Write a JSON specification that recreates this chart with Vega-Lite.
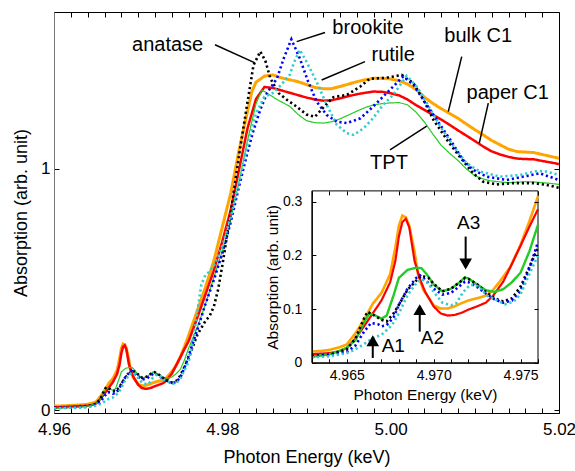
{
  "$schema": "https://vega.github.io/schema/vega-lite/v6.json",
  "width": 505,
  "height": 401,
  "autosize": {"type": "none"},
  "padding": {"left": 54, "top": 12, "right": 16, "bottom": 58},
  "config": {
    "view": {"stroke": "black", "strokeWidth": 1},
    "font": "Liberation Sans",
    "axis": {"grid": false, "labelFont": "Liberation Sans", "titleFont": "Liberation Sans", "labelColor": "black", "titleColor": "black", "titleFontWeight": "normal", "tickColor": "black", "domainColor": "black", "labelOverlap": false, "labelFlush": false}
  },
  "datasets": {
    "curves": [
      {"s":"bulk C1","x":4.960,"y":0.016},{"s":"bulk C1","x":4.9615,"y":0.018},{"s":"bulk C1","x":4.963,"y":0.021},{"s":"bulk C1","x":4.9635,"y":0.022},{"s":"bulk C1","x":4.964,"y":0.024},{"s":"bulk C1","x":4.9645,"y":0.028},{"s":"bulk C1","x":4.965,"y":0.034},{"s":"bulk C1","x":4.9655,"y":0.055},{"s":"bulk C1","x":4.966,"y":0.080},{"s":"bulk C1","x":4.9665,"y":0.110},{"s":"bulk C1","x":4.967,"y":0.130},{"s":"bulk C1","x":4.9675,"y":0.165},{"s":"bulk C1","x":4.9678,"y":0.215},{"s":"bulk C1","x":4.968,"y":0.255},{"s":"bulk C1","x":4.9682,"y":0.274},{"s":"bulk C1","x":4.9684,"y":0.271},{"s":"bulk C1","x":4.9686,"y":0.255},{"s":"bulk C1","x":4.9689,"y":0.207},{"s":"bulk C1","x":4.9691,"y":0.165},{"s":"bulk C1","x":4.9694,"y":0.136},{"s":"bulk C1","x":4.970,"y":0.107},{"s":"bulk C1","x":4.9704,"y":0.101},{"s":"bulk C1","x":4.9708,"y":0.101},{"s":"bulk C1","x":4.9712,"y":0.105},{"s":"bulk C1","x":4.9716,"y":0.111},{"s":"bulk C1","x":4.972,"y":0.116},{"s":"bulk C1","x":4.9725,"y":0.120},{"s":"bulk C1","x":4.973,"y":0.125},{"s":"bulk C1","x":4.9734,"y":0.135},{"s":"bulk C1","x":4.9738,"y":0.151},{"s":"bulk C1","x":4.9744,"y":0.178},{"s":"bulk C1","x":4.975,"y":0.220},{"s":"bulk C1","x":4.9755,"y":0.263},{"s":"bulk C1","x":4.976,"y":0.310},{"s":"bulk C1","x":4.977,"y":0.41},{"s":"bulk C1","x":4.978,"y":0.51},{"s":"bulk C1","x":4.979,"y":0.62},{"s":"bulk C1","x":4.980,"y":0.76},{"s":"bulk C1","x":4.981,"y":0.90},{"s":"bulk C1","x":4.982,"y":1.08},{"s":"bulk C1","x":4.983,"y":1.24},{"s":"bulk C1","x":4.9835,"y":1.32},{"s":"bulk C1","x":4.984,"y":1.36},{"s":"bulk C1","x":4.985,"y":1.385},{"s":"bulk C1","x":4.986,"y":1.39},{"s":"bulk C1","x":4.987,"y":1.378},{"s":"bulk C1","x":4.988,"y":1.37},{"s":"bulk C1","x":4.989,"y":1.362},{"s":"bulk C1","x":4.990,"y":1.350},{"s":"bulk C1","x":4.991,"y":1.338},{"s":"bulk C1","x":4.992,"y":1.333},{"s":"bulk C1","x":4.993,"y":1.333},{"s":"bulk C1","x":4.994,"y":1.342},{"s":"bulk C1","x":4.995,"y":1.352},{"s":"bulk C1","x":4.996,"y":1.362},{"s":"bulk C1","x":4.997,"y":1.370},{"s":"bulk C1","x":4.998,"y":1.376},{"s":"bulk C1","x":4.999,"y":1.376},{"s":"bulk C1","x":5.000,"y":1.373},{"s":"bulk C1","x":5.001,"y":1.366},{"s":"bulk C1","x":5.002,"y":1.352},{"s":"bulk C1","x":5.003,"y":1.330},{"s":"bulk C1","x":5.004,"y":1.298},{"s":"bulk C1","x":5.005,"y":1.272},{"s":"bulk C1","x":5.006,"y":1.250},{"s":"bulk C1","x":5.007,"y":1.230},{"s":"bulk C1","x":5.008,"y":1.210},{"s":"bulk C1","x":5.009,"y":1.186},{"s":"bulk C1","x":5.010,"y":1.163},{"s":"bulk C1","x":5.011,"y":1.141},{"s":"bulk C1","x":5.012,"y":1.118},{"s":"bulk C1","x":5.013,"y":1.100},{"s":"bulk C1","x":5.014,"y":1.082},{"s":"bulk C1","x":5.015,"y":1.072},{"s":"bulk C1","x":5.016,"y":1.070},{"s":"bulk C1","x":5.017,"y":1.068},{"s":"bulk C1","x":5.018,"y":1.060},{"s":"bulk C1","x":5.019,"y":1.052},{"s":"bulk C1","x":5.020,"y":1.044},

      {"s":"paper C1","x":4.960,"y":0.011},{"s":"paper C1","x":4.9615,"y":0.013},{"s":"paper C1","x":4.963,"y":0.016},{"s":"paper C1","x":4.964,"y":0.018},{"s":"paper C1","x":4.9645,"y":0.021},{"s":"paper C1","x":4.965,"y":0.027},{"s":"paper C1","x":4.9655,"y":0.045},{"s":"paper C1","x":4.966,"y":0.068},{"s":"paper C1","x":4.9665,"y":0.092},{"s":"paper C1","x":4.967,"y":0.116},{"s":"paper C1","x":4.9675,"y":0.150},{"s":"paper C1","x":4.9678,"y":0.190},{"s":"paper C1","x":4.968,"y":0.235},{"s":"paper C1","x":4.9682,"y":0.262},{"s":"paper C1","x":4.9684,"y":0.268},{"s":"paper C1","x":4.9686,"y":0.252},{"s":"paper C1","x":4.9689,"y":0.190},{"s":"paper C1","x":4.9692,"y":0.157},{"s":"paper C1","x":4.9695,"y":0.133},{"s":"paper C1","x":4.970,"y":0.105},{"s":"paper C1","x":4.9704,"y":0.092},{"s":"paper C1","x":4.9708,"y":0.088},{"s":"paper C1","x":4.9712,"y":0.089},{"s":"paper C1","x":4.9716,"y":0.093},{"s":"paper C1","x":4.972,"y":0.099},{"s":"paper C1","x":4.9725,"y":0.105},{"s":"paper C1","x":4.973,"y":0.112},{"s":"paper C1","x":4.9734,"y":0.124},{"s":"paper C1","x":4.974,"y":0.151},{"s":"paper C1","x":4.9745,"y":0.184},{"s":"paper C1","x":4.975,"y":0.218},{"s":"paper C1","x":4.9755,"y":0.253},{"s":"paper C1","x":4.976,"y":0.286},{"s":"paper C1","x":4.977,"y":0.38},{"s":"paper C1","x":4.978,"y":0.48},{"s":"paper C1","x":4.979,"y":0.58},{"s":"paper C1","x":4.980,"y":0.70},{"s":"paper C1","x":4.981,"y":0.83},{"s":"paper C1","x":4.982,"y":1.00},{"s":"paper C1","x":4.983,"y":1.17},{"s":"paper C1","x":4.984,"y":1.29},{"s":"paper C1","x":4.985,"y":1.34},{"s":"paper C1","x":4.986,"y":1.336},{"s":"paper C1","x":4.987,"y":1.326},{"s":"paper C1","x":4.988,"y":1.316},{"s":"paper C1","x":4.989,"y":1.306},{"s":"paper C1","x":4.990,"y":1.296},{"s":"paper C1","x":4.991,"y":1.288},{"s":"paper C1","x":4.992,"y":1.283},{"s":"paper C1","x":4.993,"y":1.285},{"s":"paper C1","x":4.994,"y":1.293},{"s":"paper C1","x":4.995,"y":1.302},{"s":"paper C1","x":4.996,"y":1.310},{"s":"paper C1","x":4.997,"y":1.316},{"s":"paper C1","x":4.998,"y":1.321},{"s":"paper C1","x":4.999,"y":1.320},{"s":"paper C1","x":5.000,"y":1.314},{"s":"paper C1","x":5.001,"y":1.305},{"s":"paper C1","x":5.002,"y":1.288},{"s":"paper C1","x":5.003,"y":1.265},{"s":"paper C1","x":5.004,"y":1.245},{"s":"paper C1","x":5.005,"y":1.225},{"s":"paper C1","x":5.006,"y":1.205},{"s":"paper C1","x":5.007,"y":1.183},{"s":"paper C1","x":5.008,"y":1.160},{"s":"paper C1","x":5.009,"y":1.138},{"s":"paper C1","x":5.010,"y":1.116},{"s":"paper C1","x":5.011,"y":1.093},{"s":"paper C1","x":5.012,"y":1.073},{"s":"paper C1","x":5.013,"y":1.060},{"s":"paper C1","x":5.014,"y":1.050},{"s":"paper C1","x":5.015,"y":1.043},{"s":"paper C1","x":5.016,"y":1.041},{"s":"paper C1","x":5.017,"y":1.040},{"s":"paper C1","x":5.018,"y":1.033},{"s":"paper C1","x":5.019,"y":1.027},{"s":"paper C1","x":5.020,"y":1.020},

      {"s":"TPT","x":4.960,"y":0.007},{"s":"TPT","x":4.9615,"y":0.009},{"s":"TPT","x":4.963,"y":0.011},{"s":"TPT","x":4.964,"y":0.016},{"s":"TPT","x":4.9645,"y":0.021},{"s":"TPT","x":4.965,"y":0.028},{"s":"TPT","x":4.9655,"y":0.042},{"s":"TPT","x":4.966,"y":0.075},{"s":"TPT","x":4.9663,"y":0.092},{"s":"TPT","x":4.9666,"y":0.089},{"s":"TPT","x":4.967,"y":0.082},{"s":"TPT","x":4.9673,"y":0.088},{"s":"TPT","x":4.9677,"y":0.126},{"s":"TPT","x":4.968,"y":0.158},{"s":"TPT","x":4.9685,"y":0.173},{"s":"TPT","x":4.969,"y":0.177},{"s":"TPT","x":4.9693,"y":0.176},{"s":"TPT","x":4.9696,"y":0.165},{"s":"TPT","x":4.970,"y":0.146},{"s":"TPT","x":4.9705,"y":0.133},{"s":"TPT","x":4.971,"y":0.138},{"s":"TPT","x":4.9715,"y":0.150},{"s":"TPT","x":4.9718,"y":0.159},{"s":"TPT","x":4.972,"y":0.157},{"s":"TPT","x":4.9725,"y":0.146},{"s":"TPT","x":4.973,"y":0.135},{"s":"TPT","x":4.9735,"y":0.132},{"s":"TPT","x":4.974,"y":0.137},{"s":"TPT","x":4.9745,"y":0.150},{"s":"TPT","x":4.975,"y":0.168},{"s":"TPT","x":4.9755,"y":0.207},{"s":"TPT","x":4.976,"y":0.257},{"s":"TPT","x":4.977,"y":0.34},{"s":"TPT","x":4.978,"y":0.44},{"s":"TPT","x":4.979,"y":0.55},{"s":"TPT","x":4.980,"y":0.66},{"s":"TPT","x":4.981,"y":0.79},{"s":"TPT","x":4.982,"y":0.95},{"s":"TPT","x":4.983,"y":1.12},{"s":"TPT","x":4.984,"y":1.27},{"s":"TPT","x":4.9847,"y":1.328},{"s":"TPT","x":4.9855,"y":1.310},{"s":"TPT","x":4.9865,"y":1.288},{"s":"TPT","x":4.988,"y":1.260},{"s":"TPT","x":4.989,"y":1.226},{"s":"TPT","x":4.990,"y":1.200},{"s":"TPT","x":4.991,"y":1.192},{"s":"TPT","x":4.992,"y":1.190},{"s":"TPT","x":4.993,"y":1.196},{"s":"TPT","x":4.994,"y":1.208},{"s":"TPT","x":4.995,"y":1.224},{"s":"TPT","x":4.996,"y":1.240},{"s":"TPT","x":4.997,"y":1.255},{"s":"TPT","x":4.998,"y":1.266},{"s":"TPT","x":4.999,"y":1.271},{"s":"TPT","x":5.000,"y":1.274},{"s":"TPT","x":5.001,"y":1.275},{"s":"TPT","x":5.002,"y":1.266},{"s":"TPT","x":5.003,"y":1.236},{"s":"TPT","x":5.004,"y":1.195},{"s":"TPT","x":5.005,"y":1.145},{"s":"TPT","x":5.006,"y":1.098},{"s":"TPT","x":5.007,"y":1.065},{"s":"TPT","x":5.008,"y":1.035},{"s":"TPT","x":5.009,"y":1.000},{"s":"TPT","x":5.010,"y":0.972},{"s":"TPT","x":5.011,"y":0.958},{"s":"TPT","x":5.012,"y":0.950},{"s":"TPT","x":5.013,"y":0.946},{"s":"TPT","x":5.014,"y":0.943},{"s":"TPT","x":5.015,"y":0.945},{"s":"TPT","x":5.016,"y":0.947},{"s":"TPT","x":5.017,"y":0.946},{"s":"TPT","x":5.018,"y":0.943},{"s":"TPT","x":5.019,"y":0.940},{"s":"TPT","x":5.020,"y":0.936},

      {"s":"anatase","x":4.960,"y":0.009},{"s":"anatase","x":4.9615,"y":0.011},{"s":"anatase","x":4.963,"y":0.013},{"s":"anatase","x":4.964,"y":0.015},{"s":"anatase","x":4.965,"y":0.025},{"s":"anatase","x":4.9655,"y":0.045},{"s":"anatase","x":4.966,"y":0.083},{"s":"anatase","x":4.9662,"y":0.095},{"s":"anatase","x":4.9666,"y":0.088},{"s":"anatase","x":4.967,"y":0.080},{"s":"anatase","x":4.9673,"y":0.077},{"s":"anatase","x":4.9677,"y":0.092},{"s":"anatase","x":4.968,"y":0.108},{"s":"anatase","x":4.9685,"y":0.136},{"s":"anatase","x":4.969,"y":0.153},{"s":"anatase","x":4.9693,"y":0.162},{"s":"anatase","x":4.9697,"y":0.158},{"s":"anatase","x":4.970,"y":0.147},{"s":"anatase","x":4.9705,"y":0.133},{"s":"anatase","x":4.971,"y":0.138},{"s":"anatase","x":4.9715,"y":0.150},{"s":"anatase","x":4.9718,"y":0.158},{"s":"anatase","x":4.972,"y":0.156},{"s":"anatase","x":4.9725,"y":0.146},{"s":"anatase","x":4.973,"y":0.132},{"s":"anatase","x":4.9735,"y":0.120},{"s":"anatase","x":4.974,"y":0.114},{"s":"anatase","x":4.9745,"y":0.120},{"s":"anatase","x":4.975,"y":0.142},{"s":"anatase","x":4.9755,"y":0.178},{"s":"anatase","x":4.976,"y":0.215},{"s":"anatase","x":4.977,"y":0.31},{"s":"anatase","x":4.978,"y":0.37},{"s":"anatase","x":4.9785,"y":0.39},{"s":"anatase","x":4.979,"y":0.43},{"s":"anatase","x":4.9795,"y":0.50},{"s":"anatase","x":4.980,"y":0.60},{"s":"anatase","x":4.981,"y":0.82},{"s":"anatase","x":4.982,"y":1.06},{"s":"anatase","x":4.983,"y":1.28},{"s":"anatase","x":4.9837,"y":1.43},{"s":"anatase","x":4.9845,"y":1.487},{"s":"anatase","x":4.9851,"y":1.45},{"s":"anatase","x":4.9857,"y":1.376},{"s":"anatase","x":4.9867,"y":1.314},{"s":"anatase","x":4.9877,"y":1.286},{"s":"anatase","x":4.9888,"y":1.259},{"s":"anatase","x":4.990,"y":1.226},{"s":"anatase","x":4.991,"y":1.216},{"s":"anatase","x":4.992,"y":1.255},{"s":"anatase","x":4.9932,"y":1.298},{"s":"anatase","x":4.9948,"y":1.307},{"s":"anatase","x":4.9964,"y":1.342},{"s":"anatase","x":4.9975,"y":1.374},{"s":"anatase","x":4.9995,"y":1.378},{"s":"anatase","x":5.0013,"y":1.390},{"s":"anatase","x":5.0027,"y":1.356},{"s":"anatase","x":5.0039,"y":1.286},{"s":"anatase","x":5.0051,"y":1.203},{"s":"anatase","x":5.0067,"y":1.120},{"s":"anatase","x":5.0082,"y":1.051},{"s":"anatase","x":5.0098,"y":0.982},{"s":"anatase","x":5.011,"y":0.947},{"s":"anatase","x":5.0126,"y":0.936},{"s":"anatase","x":5.0146,"y":0.941},{"s":"anatase","x":5.017,"y":0.941},{"s":"anatase","x":5.0185,"y":0.934},{"s":"anatase","x":5.020,"y":0.922},

      {"s":"brookite","x":4.960,"y":0.008},{"s":"brookite","x":4.9615,"y":0.010},{"s":"brookite","x":4.963,"y":0.012},{"s":"brookite","x":4.964,"y":0.014},{"s":"brookite","x":4.965,"y":0.020},{"s":"brookite","x":4.9655,"y":0.032},{"s":"brookite","x":4.966,"y":0.058},{"s":"brookite","x":4.9664,"y":0.074},{"s":"brookite","x":4.9668,"y":0.072},{"s":"brookite","x":4.967,"y":0.068},{"s":"brookite","x":4.9673,"y":0.070},{"s":"brookite","x":4.9677,"y":0.085},{"s":"brookite","x":4.968,"y":0.108},{"s":"brookite","x":4.9685,"y":0.138},{"s":"brookite","x":4.969,"y":0.158},{"s":"brookite","x":4.9692,"y":0.163},{"s":"brookite","x":4.9696,"y":0.152},{"s":"brookite","x":4.970,"y":0.138},{"s":"brookite","x":4.9705,"y":0.127},{"s":"brookite","x":4.971,"y":0.130},{"s":"brookite","x":4.9715,"y":0.143},{"s":"brookite","x":4.9718,"y":0.151},{"s":"brookite","x":4.972,"y":0.150},{"s":"brookite","x":4.9725,"y":0.141},{"s":"brookite","x":4.973,"y":0.129},{"s":"brookite","x":4.9735,"y":0.118},{"s":"brookite","x":4.974,"y":0.112},{"s":"brookite","x":4.9745,"y":0.116},{"s":"brookite","x":4.975,"y":0.134},{"s":"brookite","x":4.9755,"y":0.175},{"s":"brookite","x":4.976,"y":0.225},{"s":"brookite","x":4.977,"y":0.33},{"s":"brookite","x":4.978,"y":0.44},{"s":"brookite","x":4.979,"y":0.54},{"s":"brookite","x":4.980,"y":0.65},{"s":"brookite","x":4.981,"y":0.78},{"s":"brookite","x":4.982,"y":0.93},{"s":"brookite","x":4.983,"y":1.07},{"s":"brookite","x":4.9837,"y":1.16},{"s":"brookite","x":4.9845,"y":1.245},{"s":"brookite","x":4.9853,"y":1.314},{"s":"brookite","x":4.9865,"y":1.376},{"s":"brookite","x":4.9873,"y":1.459},{"s":"brookite","x":4.9882,"y":1.538},{"s":"brookite","x":4.9892,"y":1.459},{"s":"brookite","x":4.9902,"y":1.362},{"s":"brookite","x":4.9912,"y":1.279},{"s":"brookite","x":4.9924,"y":1.224},{"s":"brookite","x":4.9936,"y":1.196},{"s":"brookite","x":4.9948,"y":1.190},{"s":"brookite","x":4.9964,"y":1.210},{"s":"brookite","x":4.9975,"y":1.245},{"s":"brookite","x":4.9987,"y":1.286},{"s":"brookite","x":4.9999,"y":1.328},{"s":"brookite","x":5.0007,"y":1.356},{"s":"brookite","x":5.0015,"y":1.384},{"s":"brookite","x":5.0027,"y":1.349},{"s":"brookite","x":5.0039,"y":1.286},{"s":"brookite","x":5.0055,"y":1.203},{"s":"brookite","x":5.0071,"y":1.120},{"s":"brookite","x":5.0086,"y":1.037},{"s":"brookite","x":5.0098,"y":0.996},{"s":"brookite","x":5.0114,"y":0.968},{"s":"brookite","x":5.0138,"y":0.954},{"s":"brookite","x":5.0162,"y":0.971},{"s":"brookite","x":5.0177,"y":0.982},{"s":"brookite","x":5.020,"y":0.954},

      {"s":"rutile","x":4.960,"y":0.007},{"s":"rutile","x":4.9615,"y":0.009},{"s":"rutile","x":4.963,"y":0.010},{"s":"rutile","x":4.964,"y":0.012},{"s":"rutile","x":4.965,"y":0.018},{"s":"rutile","x":4.9655,"y":0.025},{"s":"rutile","x":4.966,"y":0.035},{"s":"rutile","x":4.9665,"y":0.046},{"s":"rutile","x":4.967,"y":0.052},{"s":"rutile","x":4.9676,"y":0.070},{"s":"rutile","x":4.968,"y":0.092},{"s":"rutile","x":4.9685,"y":0.126},{"s":"rutile","x":4.969,"y":0.148},{"s":"rutile","x":4.9693,"y":0.156},{"s":"rutile","x":4.9697,"y":0.148},{"s":"rutile","x":4.970,"y":0.132},{"s":"rutile","x":4.9705,"y":0.112},{"s":"rutile","x":4.971,"y":0.107},{"s":"rutile","x":4.9713,"y":0.111},{"s":"rutile","x":4.9717,"y":0.132},{"s":"rutile","x":4.9721,"y":0.145},{"s":"rutile","x":4.9724,"y":0.145},{"s":"rutile","x":4.9728,"y":0.136},{"s":"rutile","x":4.973,"y":0.126},{"s":"rutile","x":4.9736,"y":0.117},{"s":"rutile","x":4.9741,"y":0.109},{"s":"rutile","x":4.9746,"y":0.114},{"s":"rutile","x":4.975,"y":0.128},{"s":"rutile","x":4.9755,"y":0.165},{"s":"rutile","x":4.976,"y":0.200},{"s":"rutile","x":4.9765,"y":0.28},{"s":"rutile","x":4.977,"y":0.40},{"s":"rutile","x":4.9775,"y":0.52},{"s":"rutile","x":4.978,"y":0.56},{"s":"rutile","x":4.9785,"y":0.575},{"s":"rutile","x":4.979,"y":0.60},{"s":"rutile","x":4.980,"y":0.68},{"s":"rutile","x":4.981,"y":0.80},{"s":"rutile","x":4.982,"y":0.95},{"s":"rutile","x":4.983,"y":1.10},{"s":"rutile","x":4.984,"y":1.23},{"s":"rutile","x":4.985,"y":1.30},{"s":"rutile","x":4.986,"y":1.315},{"s":"rutile","x":4.987,"y":1.349},{"s":"rutile","x":4.988,"y":1.39},{"s":"rutile","x":4.9885,"y":1.44},{"s":"rutile","x":4.9892,"y":1.494},{"s":"rutile","x":4.990,"y":1.445},{"s":"rutile","x":4.9912,"y":1.362},{"s":"rutile","x":4.9924,"y":1.266},{"s":"rutile","x":4.9936,"y":1.183},{"s":"rutile","x":4.9948,"y":1.148},{"s":"rutile","x":4.9956,"y":1.141},{"s":"rutile","x":4.9968,"y":1.169},{"s":"rutile","x":4.9979,"y":1.210},{"s":"rutile","x":4.9991,"y":1.266},{"s":"rutile","x":5.0003,"y":1.307},{"s":"rutile","x":5.0019,"y":1.386},{"s":"rutile","x":5.0031,"y":1.342},{"s":"rutile","x":5.0043,"y":1.273},{"s":"rutile","x":5.0059,"y":1.176},{"s":"rutile","x":5.0075,"y":1.093},{"s":"rutile","x":5.009,"y":1.024},{"s":"rutile","x":5.0106,"y":0.989},{"s":"rutile","x":5.013,"y":0.968},{"s":"rutile","x":5.0154,"y":0.975},{"s":"rutile","x":5.0174,"y":0.992},{"s":"rutile","x":5.0185,"y":0.989},{"s":"rutile","x":5.020,"y":0.975}
    ],
    "notes": [
      {"t":"anatase","x":4.9735,"y":1.515},
      {"t":"brookite","x":4.9973,"y":1.583},
      {"t":"rutile","x":5.0003,"y":1.473},
      {"t":"bulk C1","x":5.0104,"y":1.55},
      {"t":"paper C1","x":5.0139,"y":1.313},
      {"t":"TPT","x":4.9998,"y":1.023}
    ],
    "leaders": [
      {"x":4.97913,"y":1.515,"x2":4.98388,"y2":1.44},
      {"x":4.9922,"y":1.566,"x2":4.98883,"y2":1.528},
      {"x":4.99695,"y":1.445,"x2":4.9918,"y2":1.369},
      {"x":5.00844,"y":1.466,"x2":5.00685,"y2":1.238},
      {"x":5.0116,"y":1.273,"x2":5.01053,"y2":1.107},
      {"x":4.99992,"y":1.079,"x2":5.00428,"y2":1.178}
    ],
    "insetNotes": [
      {"t":"A1","x":4.96768,"y":0.0317},
      {"t":"A2","x":4.96993,"y":0.047},
      {"t":"A3","x":4.97201,"y":0.261}
    ],
    "shafts": [
      {"x":4.9665,"y":0.009,"y2":0.032},
      {"x":4.9692,"y":0.058,"y2":0.09},
      {"x":4.97184,"y":0.235,"y2":0.19}
    ],
    "heads": [
      {"d":"up","x":4.9665,"y":0.041},
      {"d":"up","x":4.9692,"y":0.099},
      {"d":"down","x":4.97184,"y":0.184}
    ],
    "frame": [{"x":4.963,"x2":4.976,"y":0,"y2":0.32}]
  },
  "layer": [
    {
      "layer": [
        {
          "data": {"name": "curves"},
          "mark": {"type": "line", "clip": true, "strokeCap": "butt"},
          "encoding": {
            "x": {"field": "x", "type": "quantitative", "scale": {"domain": [4.96, 5.02], "nice": false, "zero": false},
              "axis": {"orient": "bottom", "values": [4.96,4.962,4.964,4.966,4.968,4.97,4.972,4.974,4.976,4.978,4.98,4.982,4.984,4.986,4.988,4.99,4.992,4.994,4.996,4.998,5.0,5.002,5.004,5.006,5.008,5.01,5.012,5.014,5.016,5.018,5.02],
                "labelExpr": "abs(datum.value * 50 - round(datum.value * 50)) < 0.000001 ? format(datum.value, '.2f') : ''",
                "tickSize": -5, "labelPadding": 13, "labelFontSize": 17, "title": "Photon Energy (keV)", "titleFontSize": 18, "titlePadding": 11}},
            "y": {"field": "y", "type": "quantitative", "scale": {"domain": [-0.0124, 1.651], "nice": false, "zero": false},
              "axis": {"orient": "left", "values": [0, 1], "labelExpr": "format(datum.value, 'd')", "tickSize": -5, "labelPadding": 9, "labelFontSize": 17, "domainColor": "#777777", "title": "Absorption (arb. unit)", "titleFontSize": 18, "titlePadding": 10}},
            "color": {"field": "s", "type": "nominal", "legend": null, "scale": {"domain": ["bulk C1","paper C1","TPT","anatase","brookite","rutile"], "range": ["#FFA500","#FF0000","#22CC22","#000000","#0000FF","#33CCCC"]}},
            "strokeDash": {"field": "s", "type": "nominal", "legend": null, "scale": {"domain": ["bulk C1","paper C1","TPT","anatase","brookite","rutile"], "range": [[1,0],[1,0],[1,0],[2.2,2.8],[2.2,2.8],[2.2,2.8]]}},
            "strokeWidth": {"field": "s", "type": "nominal", "legend": null, "scale": {"type": "ordinal", "domain": ["bulk C1","paper C1","TPT","anatase","brookite","rutile"], "range": [3, 2.5, 1.2, 2.6, 2.6, 2.6]}}
          }
        },
        {
          "data": {"name": "leaders"},
          "mark": {"type": "rule", "color": "black", "strokeWidth": 1.5},
          "encoding": {
            "x": {"field": "x", "type": "quantitative", "axis": {"orient": "top", "values": [4.96,4.962,4.964,4.966,4.968,4.97,4.972,4.974,4.976,4.978,4.98,4.982,4.984,4.986,4.988,4.99,4.992,4.994,4.996,4.998,5.0,5.002,5.004,5.006,5.008,5.01,5.012,5.014,5.016,5.018,5.02], "labels": false, "domain": false, "tickSize": -5, "title": null}},
            "y": {"field": "y", "type": "quantitative", "axis": {"orient": "right", "values": [0, 1], "labels": false, "domain": false, "tickSize": -5, "title": null}},
            "x2": {"field": "x2"},
            "y2": {"field": "y2"}
          }
        },
        {
          "data": {"name": "notes"},
          "mark": {"type": "text", "fontSize": 20, "font": "Liberation Sans", "align": "center", "baseline": "middle", "color": "black"},
          "encoding": {
            "x": {"field": "x", "type": "quantitative", "axis": null},
            "y": {"field": "y", "type": "quantitative", "axis": null},
            "text": {"field": "t"}
          }
        }
      ],
      "resolve": {"axis": {"x": "independent", "y": "independent"}}
    },
    {
      "layer": [
        {
          "data": {"name": "frame"},
          "mark": {"type": "rect", "fill": "white", "stroke": "black", "strokeWidth": 1},
          "encoding": {
            "x": {"field": "x", "type": "quantitative", "axis": null, "scale": {"domain": [4.963, 4.976], "range": [257.9, 484], "nice": false, "zero": false}},
            "x2": {"field": "x2"},
            "y": {"field": "y", "type": "quantitative", "axis": null, "scale": {"domain": [0, 0.32], "range": [350.8, 178.9], "nice": false, "zero": false}},
            "y2": {"field": "y2"}
          }
        },
        {
          "data": {"name": "curves"},
          "transform": [{"filter": "datum.x >= 4.963 && datum.x <= 4.976"}],
          "mark": {"type": "line", "strokeCap": "butt"},
          "encoding": {
            "x": {"field": "x", "type": "quantitative",
              "axis": {"orient": "bottom", "offset": -50.2, "zindex": 1, "values": [4.963,4.964,4.965,4.966,4.967,4.968,4.969,4.97,4.971,4.972,4.973,4.974,4.975,4.976],
                "labelExpr": "abs(datum.value * 200 - round(datum.value * 200)) < 0.000001 ? format(datum.value, '.3f') : ''",
                "tickSize": -4, "labelPadding": 10, "labelFontSize": 14, "title": "Photon Energy (keV)", "titleFontSize": 15.5, "titlePadding": 5}},
            "y": {"field": "y", "type": "quantitative",
              "axis": {"orient": "left", "offset": -257.9, "zindex": 1, "values": [0, 0.1, 0.2, 0.3], "labelExpr": "datum.value == 0 ? '0' : format(datum.value, '.1f')", "tickSize": -4, "labelPadding": 14, "labelFontSize": 14, "title": "Absorption (arb. unit)", "titleFontSize": 15.5, "titlePadding": 2}},
            "color": {"field": "s", "type": "nominal", "legend": null},
            "strokeDash": {"field": "s", "type": "nominal", "legend": null},
            "strokeWidth": {"field": "s", "type": "nominal", "legend": null, "scale": {"type": "ordinal", "domain": ["bulk C1","paper C1","TPT","anatase","brookite","rutile"], "range": [2.6, 2.2, 2.4, 2.6, 2.6, 2.6]}}
          }
        },
        {
          "data": {"name": "shafts"},
          "mark": {"type": "rule", "color": "black", "strokeWidth": 2},
          "encoding": {
            "x": {"field": "x", "type": "quantitative", "axis": {"orient": "top", "offset": -178.9, "zindex": 1, "values": [4.963,4.964,4.965,4.966,4.967,4.968,4.969,4.97,4.971,4.972,4.973,4.974,4.975,4.976], "labels": false, "domain": false, "tickSize": -4, "title": null}},
            "y": {"field": "y", "type": "quantitative", "axis": {"orient": "right", "offset": -21, "zindex": 1, "values": [0, 0.1, 0.2, 0.3], "labels": false, "domain": false, "tickSize": -4, "title": null}},
            "y2": {"field": "y2"}
          }
        },
        {
          "data": {"name": "heads"},
          "mark": {"type": "point", "filled": true, "color": "black", "opacity": 1, "size": 160},
          "encoding": {
            "x": {"field": "x", "type": "quantitative", "axis": null},
            "y": {"field": "y", "type": "quantitative", "axis": null},
            "shape": {"field": "d", "type": "nominal", "legend": null, "scale": {"domain": ["up", "down"], "range": ["triangle-up", "triangle-down"]}}
          }
        },
        {
          "data": {"name": "insetNotes"},
          "mark": {"type": "text", "fontSize": 19, "font": "Liberation Sans", "align": "center", "baseline": "middle", "color": "black"},
          "encoding": {
            "x": {"field": "x", "type": "quantitative", "axis": null},
            "y": {"field": "y", "type": "quantitative", "axis": null},
            "text": {"field": "t"}
          }
        }
      ],
      "resolve": {"axis": {"x": "independent", "y": "independent"}}
    }
  ],
  "resolve": {"scale": {"x": "independent", "y": "independent", "strokeWidth": "independent"}, "axis": {"x": "independent", "y": "independent"}}
}
